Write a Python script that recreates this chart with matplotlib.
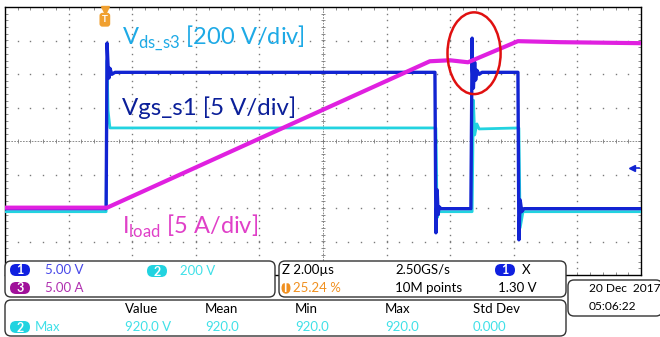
import numpy as np
import matplotlib
matplotlib.use('Agg')
import matplotlib.pyplot as plt
from matplotlib.patches import FancyBboxPatch, Ellipse

plt.rcParams['font.family'] = ['Lato', 'DejaVu Sans']
plt.rcParams['mathtext.fontset'] = 'custom'
plt.rcParams['mathtext.rm'] = 'Lato'

# tempo em us (2 us/div), amplitude em divisoes
t_ch1 = [0, 3.18, 3.21, 3.24, 3.27, 3.30, 3.36, 3.46,
         13.52, 13.55, 13.59, 13.62, 13.65, 13.71,
         14.65, 14.69, 14.70, 14.73, 14.77, 14.80, 14.84, 14.91, 15.00,
         16.13, 16.16, 16.20, 16.25, 16.32, 20.0]
y_ch1 = [-2.02, -2.02, 2.92, 2.26, 1.88, 2.17, 1.99, 2.05,
         2.05, -2.74, -1.46, -2.20, -1.96, -2.02,
         -2.02, 3.07, 2.11, 1.58, 2.35, 1.82, 2.11, 1.99, 2.05,
         2.05, -2.95, -1.76, -2.11, -2.02, -2.02]

t_ch2 = [0, 3.18, 3.21, 3.24, 3.30, 13.55, 13.59, 13.65,
         14.69, 14.73, 14.77, 14.84, 14.91, 16.16, 16.20, 16.29, 20.0]
y_ch2 = [-2.11, -2.11, 2.41, 0.92, 0.39, 0.39, -2.29, -2.11,
         -2.11, 1.22, 0.18, 0.51, 0.36, 0.39, -2.59, -2.11, -2.11]

t_ch3 = [0, 3.21, 13.36, 13.99, 14.56, 16.13, 17.45, 20.0]
y_ch3 = [-1.99, -1.99, 2.38, 2.41, 2.35, 2.98, 2.95, 2.92]

azul = '#1224D2'
ciano = '#22D3E0'
magenta = '#E020E0'
cinza = '#7a7a7a'

fig = plt.figure(figsize=(6.6, 3.37), dpi=100)
ax = fig.add_axes([5/660, (337-275)/337, 636/660, 268/337])
ax.set_xlim(0, 20)
ax.set_ylim(-4, 4)
ax.set_xticks([])
ax.set_yticks([])
for s in ax.spines.values():
    s.set_linewidth(1.0)
    s.set_color('black')

# graticula
xm = np.arange(0, 20.01, 0.4)
ym = np.arange(-4, 4.01, 0.2)
for gx in [2, 4, 6, 8, 12, 14, 16, 18]:
    ax.plot([gx]*len(ym), ym, ls='None', marker='s', ms=1.0, color=cinza, mew=0)
for gy in [-3, -2, -1, 1, 2, 3]:
    ax.plot(xm, [gy]*len(xm), ls='None', marker='s', ms=1.0, color=cinza, mew=0)
ax.axhline(0, color=cinza, lw=0.6, ls=(0, (2, 1.5)))
ax.axvline(10, color=cinza, lw=0.6, ls=(0, (2, 1.5)))
ax.plot(xm, [0]*len(xm), ls='None', marker='|', ms=3, color=cinza, mew=0.6)
ax.plot([10]*len(ym), ym, ls='None', marker='_', ms=3, color=cinza, mew=0.6)
ax.plot(xm, [4]*len(xm), ls='None', marker='|', ms=4, color=cinza, mew=0.6)
ax.plot(xm, [-4]*len(xm), ls='None', marker='|', ms=4, color=cinza, mew=0.6)
ax.plot([0]*len(ym), ym, ls='None', marker='_', ms=4, color=cinza, mew=0.6)
ax.plot([20]*len(ym), ym, ls='None', marker='_', ms=4, color=cinza, mew=0.6)

# formas de onda
ax.plot(t_ch2, y_ch2, color=ciano, lw=2.0, zorder=3)
ax.plot(t_ch1, y_ch1, color=azul, lw=2.4, zorder=4)
ax.plot(t_ch3, y_ch3, color=magenta, lw=3.0, zorder=5)

ax.add_patch(Ellipse((14.75, 2.62), 1.67, 2.44, fill=False, ec='#E01010', lw=1.8, zorder=6))

# rotulos
ax.text(3.68, 3.07, r'V$_\mathrm{ds\_s3}$ [200 V/div]', color='#1EAAE6', fontsize=17, va='center', zorder=7)
ax.text(3.68, 0.98, 'Vgs_s1 [5 V/div]', color='#0B1F99', fontsize=17.3, va='center', zorder=7)
ax.text(3.68, -2.56, r'I$_\mathrm{load}$ [5 A/div]', color='#E040C8', fontsize=17, va='center', zorder=7)

# marcador de trigger e nivel
ax.plot([3.14], [3.92], marker='v', ms=6, color='#F0A030', clip_on=False, zorder=8)
ax.text(3.14, 3.62, 'T', color='white', fontsize=7, fontweight='bold', ha='center', va='center',
        bbox=dict(boxstyle='round,pad=0.25,rounding_size=0.3', fc='#F0A030', ec='none'), zorder=8)
ax.plot([19.72], [-0.80], marker='<', ms=5, color=azul, zorder=8)
ax.plot([19.72, 19.95], [-0.80, -0.80], color=azul, lw=1.2, zorder=8)

# paineis de informacao (coordenadas em pixels)
ov = fig.add_axes([0, 0, 1, 1], zorder=10)
ov.set_xlim(0, 660)
ov.set_ylim(337, 0)
ov.axis('off')
ov.patch.set_alpha(0)

def painel(x0, y0, x1, y1):
    ov.add_patch(FancyBboxPatch((x0, y0), x1-x0, y1-y0,
                                boxstyle='round,pad=0,rounding_size=6',
                                fc='white', ec='#333333', lw=1.0))

def selo(x, y, txt, cor, w=20, h=12):
    ov.add_patch(FancyBboxPatch((x-w/2, y-h/2), w, h,
                                boxstyle='round,pad=0,rounding_size=6', fc=cor, ec='none'))
    ov.text(x, y+0.5, txt, color='white', fontsize=9, fontweight='bold', ha='center', va='center')

painel(5, 261, 275, 297)
painel(279, 261, 566, 297)
painel(5, 300, 566, 336)
painel(568, 280, 662, 316)

fs = 9.5
selo(20, 270, '1', '#1020E0')
ov.text(45, 270, '5.00 V', color='#4848E8', fontsize=fs, va='center')
selo(20, 288, '3', '#A0109A')
ov.text(45, 288, '5.00 A', color='#B030B0', fontsize=fs, va='center')
selo(157, 271, '2', ciano)
ov.text(180, 271, '200 V', color='#40E0E8', fontsize=fs, va='center')

ov.text(282, 270, 'Z 2.00µs', color='black', fontsize=fs, va='center')
selo(286, 288, 'T', '#F09020', w=9, h=12)
ov.text(293, 288, '25.24 %', color='#F09020', fontsize=fs, va='center')
ov.text(395, 270, '2.50GS/s', color='black', fontsize=fs, va='center')
ov.text(395, 288, '10M points', color='black', fontsize=fs, va='center')
selo(505, 270, '1', '#1020E0')
ov.text(522, 270, 'X', color='black', fontsize=fs, va='center')
ov.text(498, 288, '1.30 V', color='black', fontsize=fs, va='center')

selo(20, 327, '2', ciano)
ov.text(35, 327, 'Max', color='#40E0E8', fontsize=fs, va='center')
cab = ['Value', 'Mean', 'Min', 'Max', 'Std Dev']
vals = ['920.0 V', '920.0', '920.0', '920.0', '0.000']
xs = [125, 205, 295, 385, 473]
for x, c, v in zip(xs, cab, vals):
    ov.text(x, 309, c, color='black', fontsize=fs, va='center')
    ov.text(x, 327, v, color='#40E0E8', fontsize=fs, va='center')

ov.text(589, 289, '20 Dec  2017', color='black', fontsize=8.6, va='center')
ov.text(589, 307, '05:06:22', color='black', fontsize=8.6, va='center')

fig.savefig('out.png', dpi=100)
